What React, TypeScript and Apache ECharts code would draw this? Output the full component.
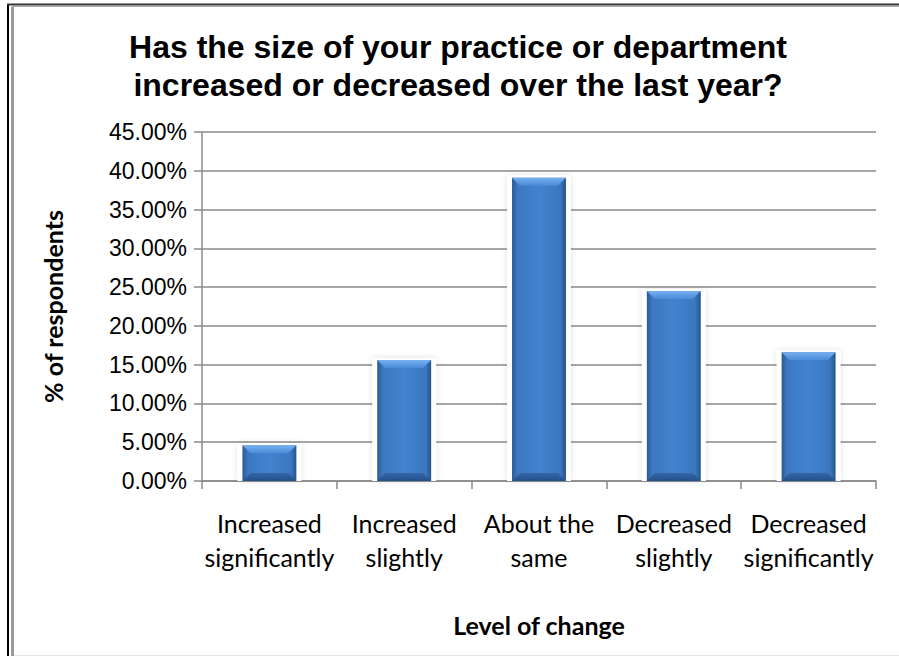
import React, { useEffect, useRef } from "react";
import * as echarts from "echarts";

const titleLines = [
  "Has the size of your practice or department",
  "increased or decreased over the last year?",
];
const categories = [
  "Increased\nsignificantly",
  "Increased\nslightly",
  "About the\nsame",
  "Decreased\nslightly",
  "Decreased\nsignificantly",
];
const values = [4.6, 15.6, 39.1, 24.5, 16.6];
const yMin = 0;
const yMax = 45;
const yInterval = 5;
const xAxisTitle = "Level of change";
const yAxisTitle = "% of respondents";

export default function App() {
  const ref = useRef<HTMLDivElement>(null);
  useEffect(() => {
    if (!ref.current) return;
    const chart = echarts.init(ref.current, null, { renderer: "svg" });
    const data = values.map((v, i) => [i, v]);
    const option: any = {
      animation: false,
      backgroundColor: "#ffffff",
      grid: { left: 202, right: 23, top: 132, bottom: 175, containLabel: false },
      graphic: [
        { type: "line", shape: { x1: 8, y1: 4, x2: 8, y2: 656 }, style: { stroke: "#000", lineWidth: 2 } },
        { type: "line", shape: { x1: 7, y1: 4.5, x2: 899, y2: 4.5 }, style: { stroke: "#333", lineWidth: 2 } },
        { type: "line", shape: { x1: 12.5, y1: 7, x2: 12.5, y2: 656 }, style: { stroke: "#9a9a9a", lineWidth: 3 } },
        { type: "line", shape: { x1: 12, y1: 6.5, x2: 899, y2: 6.5 }, style: { stroke: "#aaa", lineWidth: 1 } },
        { type: "line", shape: { x1: 14, y1: 655.5, x2: 899, y2: 655.5 }, style: { stroke: "#e4e4e4", lineWidth: 1 } },
        {
          type: "text",
          x: 458,
          y: 28,
          style: {
            text: titleLines.join("\n"),
            align: "center",
            verticalAlign: "top",
            fontFamily: "Liberation Sans, Arial, sans-serif",
            fontWeight: "bold",
            fontSize: 32,
            lineHeight: 38,
            fill: "#000",
          },
        },
      ],
      xAxis: {
        type: "category",
        data: categories,
        name: xAxisTitle,
        nameLocation: "middle",
        nameGap: 131,
        nameTextStyle: { fontFamily: "Lato, sans-serif", fontWeight: "bold", fontSize: 25, color: "#000" },
        axisLine: { lineStyle: { color: "#8a8a8a", width: 1.5 } },
        axisTick: { show: true, length: 8, lineStyle: { color: "#8a8a8a", width: 1.5 } },
        axisLabel: {
          interval: 0,
          margin: 25,
          fontFamily: "Lato, sans-serif",
          fontSize: 25,
          lineHeight: 34,
          color: "#000",
        },
        splitLine: { show: false },
      },
      yAxis: {
        type: "value",
        min: yMin,
        max: yMax,
        interval: yInterval,
        name: yAxisTitle,
        nameLocation: "middle",
        nameRotate: 90,
        nameGap: 137,
        nameTextStyle: { fontFamily: "Lato, sans-serif", fontWeight: "bold", fontSize: 25, color: "#000" },
        axisLine: { show: true, lineStyle: { color: "#8a8a8a", width: 1.5 } },
        axisTick: { show: true, length: 8, lineStyle: { color: "#8a8a8a", width: 1.5 } },
        axisLabel: {
          margin: 15,
          fontFamily: "Liberation Sans, Arial, sans-serif",
          fontSize: 23,
          color: "#000",
          formatter: (v: number) => v.toFixed(2) + "%",
        },
        splitLine: { show: true, lineStyle: { color: "#8a8a8a", width: 1.5 } },
      },
      series: [
        {
          type: "custom",
          data,
          encode: { x: 0, y: 1 },
          renderItem: (params: any, api: any) => {
            const idx = api.value(0);
            const v = api.value(1);
            const top = api.coord([idx, v]);
            const base = api.coord([idx, 0]);
            const band = api.size([1, 0])[0];
            const w = band * 0.4;
            const x0 = top[0] - w / 2;
            const x1 = x0 + w;
            const y0 = top[1];
            const y1 = base[1];
            const b = Math.min(8, (y1 - y0) / 3);
            const body = new echarts.graphic.LinearGradient(0, 0, 1, 0, [
              { offset: 0, color: "#2a5894" },
              { offset: 0.1, color: "#3c78c0" },
              { offset: 0.5, color: "#4283cf" },
              { offset: 0.9, color: "#3b77bf" },
              { offset: 1, color: "#27528c" },
            ]);
            return {
              type: "group",
              children: [
                {
                  type: "rect",
                  shape: { x: x0 - 5, y: y0 - 2, width: w + 10, height: y1 - y0 + 2 },
                  style: { fill: "#ffffff", shadowBlur: 6, shadowColor: "rgba(0,0,0,0.12)" },
                },
                {
                  type: "rect",
                  shape: { x: x0, y: y0, width: w, height: y1 - y0 },
                  style: { fill: body },
                },
                {
                  type: "polygon",
                  shape: { points: [[x0, y0], [x1, y0], [x1 - b, y0 + b], [x0 + b, y0 + b]] },
                  style: {
                    fill: new echarts.graphic.LinearGradient(0, 0, 0, 1, [
                      { offset: 0, color: "#76b0ee" },
                      { offset: 1, color: "#4a8ad8" },
                    ]),
                  },
                },
                {
                  type: "polygon",
                  shape: { points: [[x0, y1], [x0 + b, y1 - b], [x1 - b, y1 - b], [x1, y1]] },
                  style: {
                    fill: new echarts.graphic.LinearGradient(0, 0, 0, 1, [
                      { offset: 0, color: "#3467a8" },
                      { offset: 1, color: "#23508a" },
                    ]),
                  },
                },
              ],
            };
          },
        },
      ],
    };
    chart.setOption(option);
    return () => chart.dispose();
  }, []);
  return (
    <div
      ref={ref}
      style={{ position: "absolute", left: 0, top: 0, width: 899, height: 656 }}
    />
  );
}
